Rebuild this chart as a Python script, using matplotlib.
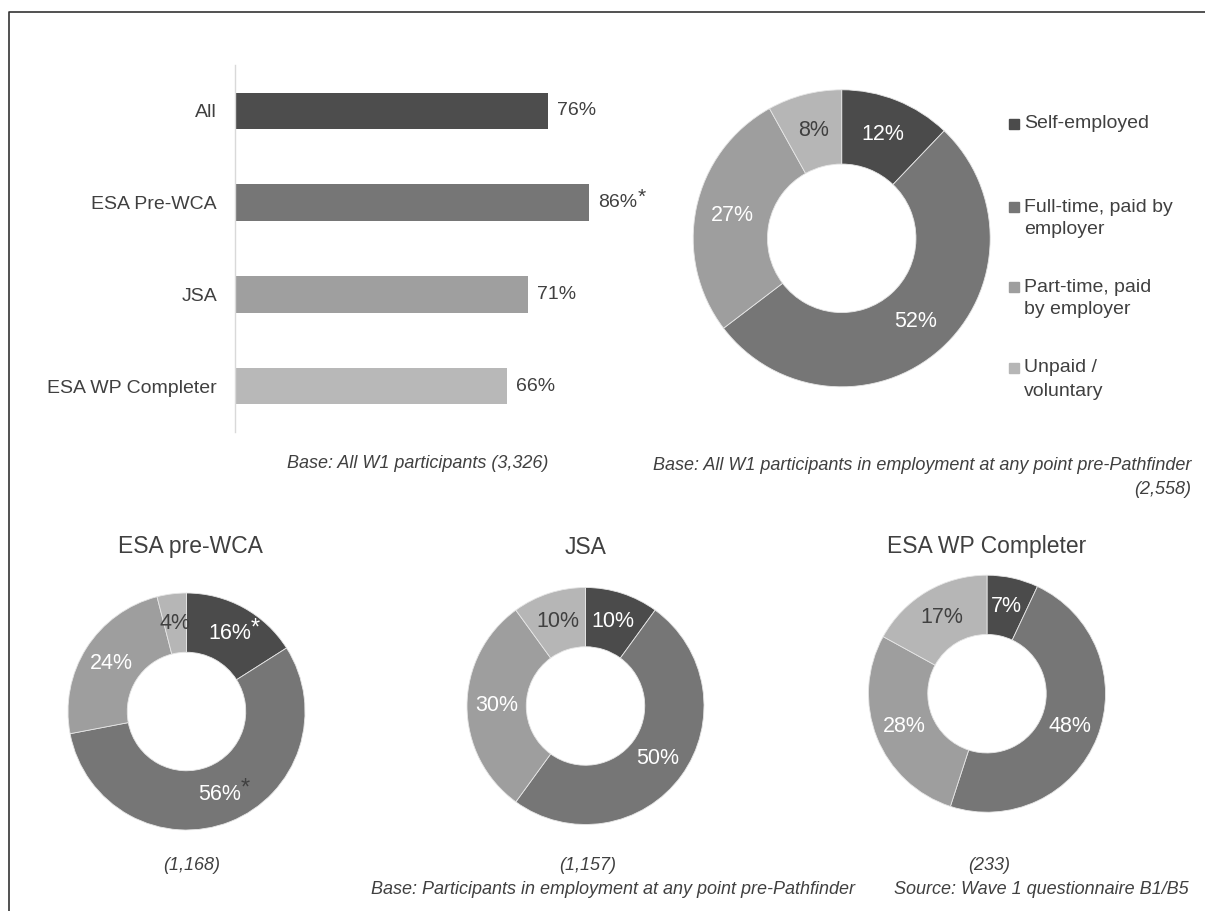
import matplotlib
matplotlib.use("Agg")
import matplotlib.pyplot as plt
from matplotlib.lines import Line2D
from matplotlib.patches import Rectangle

W, H = 1205, 911
plt.rcParams['font.family'] = ['Liberation Sans', 'DejaVu Sans']
TXT = '#404040'

# ---------------- data ----------------
bar_categories = ['All', 'ESA Pre-WCA', 'JSA', 'ESA WP Completer']
bar_values = [76, 86, 71, 66]
bar_significant = [False, True, False, False]
bar_colors = ['#4d4d4d', '#767676', '#9f9f9f', '#b8b8b8']

segment_labels = ['Self-employed', 'Full-time, paid by\nemployer',
                  'Part-time, paid\nby employer', 'Unpaid /\nvoluntary']
segment_colors = ['#4b4b4b', '#767676', '#9e9e9e', '#b6b6b6']
label_colors = ['white', 'white', 'white', TXT]
asterisk_colors = ['white', TXT, TXT, TXT]

all_employed = [12, 52, 27, 8]
esa_prewca = [16, 56, 24, 4]
esa_prewca_sig = [True, True, False, False]
jsa = [10, 50, 30, 10]
esa_wp = [7, 48, 28, 17]

group_titles = ['ESA pre-WCA', 'JSA', 'ESA WP Completer']
group_bases = ['(1,168)', '(1,157)', '(233)']

fig = plt.figure(figsize=(W / 100, H / 100), dpi=100)


def px_axes(x0, y0, x1, y1):
    return fig.add_axes([x0 / W, 1 - y1 / H, (x1 - x0) / W, (y1 - y0) / H])


def ftext(x, y, s, **kw):
    kw.setdefault('color', TXT)
    return fig.text(x / W, 1 - y / H, s, **kw)


# ---------------- bar chart ----------------
ax = px_axes(235, 65, 235 + 412, 432)
ypos = list(range(len(bar_categories)))
ax.barh(ypos, bar_values, height=0.4, color=bar_colors)
ax.set_xlim(0, 100)
ax.set_ylim(3.5, -0.5)
for s in ['top', 'right', 'bottom']:
    ax.spines[s].set_visible(False)
ax.spines['left'].set_color('#d9d9d9')
ax.spines['left'].set_linewidth(1.0)
ax.set_xticks([])
ax.set_yticks(ypos, bar_categories)
ax.tick_params(axis='y', length=0, pad=13, labelsize=14, labelcolor=TXT)
for i, (v, sig) in enumerate(zip(bar_values, bar_significant)):
    ax.annotate(f'{v}%', xy=(v, i), xytext=(6.5, 0), textcoords='offset points',
                va='center', ha='left', fontsize=14, color=TXT)
    if sig:
        ax.annotate('*', xy=(v, i), xytext=(37.5, 3.6), textcoords='offset points',
                    va='center', ha='center', fontsize=15, color=TXT)


# ---------------- donuts ----------------
def donut(cx, cy, R, values, sig=None):
    a = px_axes(cx - R, cy - R, cx + R, cy + R)
    wedges, texts = a.pie(values, colors=segment_colors, startangle=90,
                          counterclock=False, radius=1,
                          labels=[f'{v}%' for v in values], labeldistance=0.75,
                          wedgeprops=dict(width=0.5, edgecolor='#e6e6e6', linewidth=0.6),
                          textprops=dict(fontsize=15.5))
    for t, c in zip(texts, label_colors):
        t.set_color(c)
        t.set_ha('center')
        t.set_va('center')
    a.set_xlim(-1, 1)
    a.set_ylim(-1, 1)
    a.set_aspect('equal')
    if sig:
        for t, s, ac in zip(texts, sig, asterisk_colors):
            if s:
                a.annotate('*', xy=t.get_position(), xytext=(18.5, 3.8),
                           textcoords='offset points', ha='center', va='center',
                           fontsize=17, color=ac)
    return a


donut(841.7, 238.3, 148.5, all_employed)
donut(186.5, 711.5, 118.5, esa_prewca, esa_prewca_sig)
donut(585.5, 706, 118.5, jsa)
donut(987, 693.7, 118.5, esa_wp)

# ---------------- legend ----------------
legend_first_y = [124, 207, 287, 368]
for lab, c, y in zip(segment_labels, segment_colors, legend_first_y):
    fig.add_artist(Rectangle((1009 / W, 1 - (y + 5) / H), 10 / W, 10 / H,
                             transform=fig.transFigure, color=c))
    for k, line in enumerate(lab.split('\n')):
        ftext(1024, y + 23 * k, line, ha='left', va='center', fontsize=14)

# ---------------- titles & notes ----------------
for title, base, x in zip(group_titles, group_bases, [190, 585.5, 987]):
    ftext(x, 547, title, ha='center', va='center', fontsize=16.5)
    ftext(x + 2, 865, base, ha='center', va='center', fontsize=13, style='italic')

ftext(418, 464, 'Base: All W1 participants (3,326)', ha='center', va='center',
      fontsize=13, style='italic')
ftext(1191, 466, 'Base: All W1 participants in employment at any point pre-Pathfinder',
      ha='right', va='center', fontsize=13, style='italic')
ftext(1191, 489, '(2,558)', ha='right', va='center', fontsize=13, style='italic')
ftext(855, 889, 'Base: Participants in employment at any point pre-Pathfinder',
      ha='right', va='center', fontsize=13, style='italic')
ftext(1189, 889, 'Source: Wave 1 questionnaire B1/B5', ha='right', va='center',
      fontsize=13, style='italic')

# frame
fig.add_artist(Line2D([9 / W, 9 / W, 1], [0, 1 - 12 / H, 1 - 12 / H],
                      transform=fig.transFigure, color='#333333', lw=1.2))

fig.savefig('out.png', dpi=100)
